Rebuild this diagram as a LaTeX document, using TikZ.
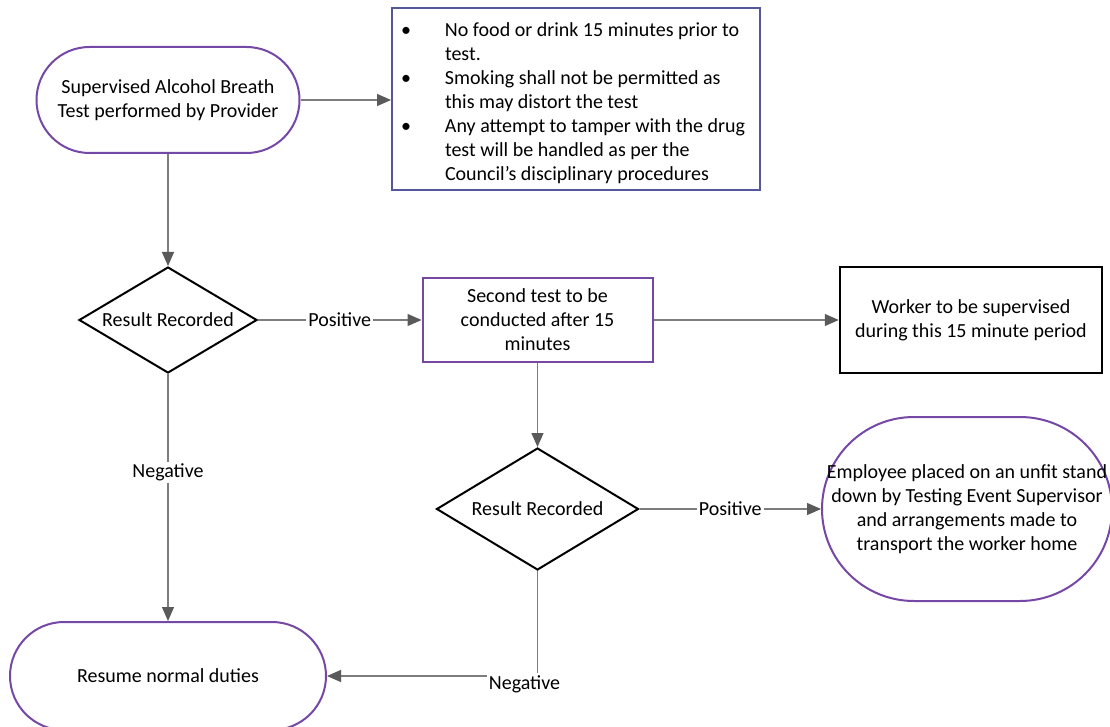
\documentclass[tikz,border=0pt]{standalone}
\usepackage{fontspec}
\setmainfont{Carlito}
\usetikzlibrary{shapes.geometric,arrows.meta}
\definecolor{purp}{RGB}{118,72,165}
\definecolor{slate}{RGB}{84,88,155}
\definecolor{arr}{RGB}{90,90,90}
\definecolor{lin}{RGB}{125,125,125}
\begin{document}
\begin{tikzpicture}[x=1pt,y=-1pt,
  every node/.style={font=\fontsize{20}{24}\selectfont, align=center, inner sep=0pt},
  term/.style={draw=purp, line width=2pt, rectangle, fill=white},
  proc/.style={draw=purp, line width=2pt, rectangle, fill=white},
  decis/.style={draw=black, line width=2pt, diamond, fill=white},
  conn/.style={draw=lin, line width=1.3pt, -{Triangle[length=14pt,width=12pt,color=arr]}},
  lab/.style={fill=white, inner sep=2pt}]
\useasboundingbox (0,0) rectangle (1110,727);

\node[term, minimum width=263, minimum height=106, rounded corners=53] (start) at (168,100)
  {Supervised Alcohol Breath\\Test performed by Provider};

\node[draw=slate, line width=2pt, minimum width=368, minimum height=182] (rules) at (576,99)
  {\makebox[350pt][l]{\begin{tabular}{@{}p{44pt}@{}l@{}}
   \rule{0pt}{27pt}\textbullet & No food or drink 15 minutes prior to\\
               & test.\\
   \textbullet & Smoking shall not be permitted as\\
               & this may distort the test\\
   \textbullet & Any attempt to tamper with the drug\\
               & test will be handled as per the\\
               & Council’s disciplinary procedures
   \end{tabular}}};

\node[decis, aspect=1.68, minimum width=178, minimum height=106] (d1) at (168,320) {Result Recorded};

\node[proc, minimum width=230, minimum height=84] (second) at (537.5,320)
  {Second test to be\\conducted after 15\\minutes};

\node[draw=black, line width=2.5pt, minimum width=262, minimum height=106] (worker) at (971,320)
  {Worker to be supervised\\during this 15 minute period};

\node[decis, aspect=1.66, minimum width=202, minimum height=122] (d2) at (537.5,509) {Result Recorded};

\node[term, minimum width=290, minimum height=184, rounded corners=92] (employee) at (967,509)
  {Employee placed on an unfit stand\\down by Testing Event Supervisor\\and arrangements made to\\transport the worker home};

\node[term, minimum width=316, minimum height=108, rounded corners=54] (resume) at (168,676)
  {Resume normal duties};

\draw[conn] (start.east) -- (start.east -| rules.west);
\draw[conn] (start.south) -- (d1.north);
\draw[conn] (d1.east) -- node[lab]{Positive} (second.west);
\draw[conn] (second.east) -- (worker.west);
\draw[conn] (second.south) -- (d2.north);
\draw[conn] (d2.east) -- node[lab]{Positive} (employee.west);
\draw[conn] (d1.south) -- node[lab, pos=0.4]{Negative} (resume.north);
\draw[conn] (d2.south) |- node[lab, pos=0.5, xshift=-13pt, yshift=-8pt]{Negative} (resume.east);
\end{tikzpicture}
\end{document}
